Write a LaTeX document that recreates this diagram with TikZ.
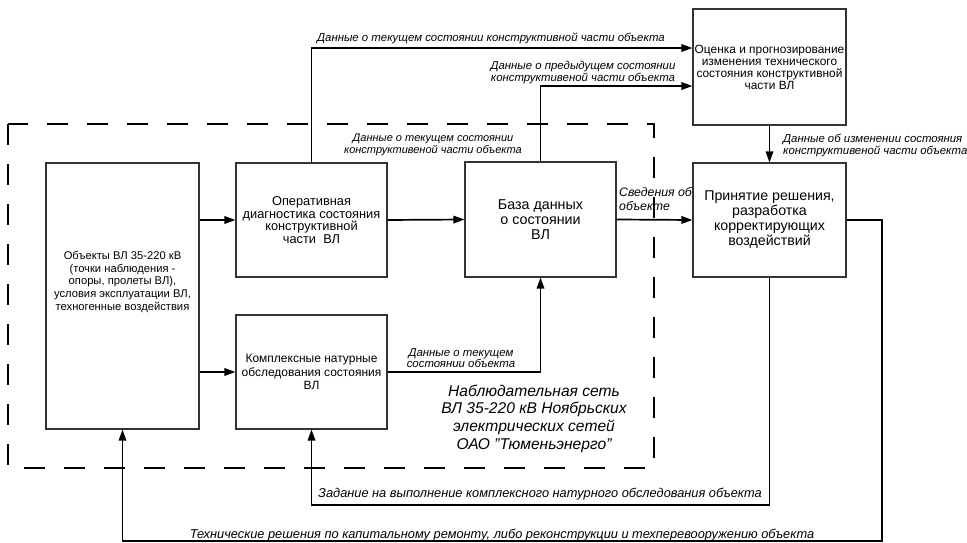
\documentclass[tikz,border=0pt]{standalone}
\usepackage{fontspec}
\setmainfont{Liberation Sans}
\usetikzlibrary{arrows.meta}
\begin{document}
\begin{tikzpicture}[x=1pt,y=-1pt,
  box/.style={draw=black!80,line width=1.1pt,inner sep=0pt,align=center},
  txt/.style={inner sep=0pt,align=center},
  lab/.style={inner sep=0pt,align=center,font=\fontsize{11.4}{11.5}\selectfont\itshape},
  biglab/.style={inner sep=0pt,align=center,font=\fontsize{12.8}{13}\selectfont\itshape},
  arr/.style={draw=black,line width=1.7pt,-{Triangle[length=11pt,width=7.5pt]}},
  netframe/.style={draw=black,line width=2pt,dash pattern=on 21pt off 19pt}]
\useasboundingbox (0,0) rectangle (967,543);

% observation network frame
\draw[netframe] (8,124) rectangle (654,468);

% blocks
\node[box,minimum width=153pt,minimum height=266pt] (obj) at (122.5,296) {};
\node[txt,font=\fontsize{11.2}{12.7}\selectfont] (objtxt) at (122.5,282)
  {Объекты ВЛ 35-220 кВ\\(точки наблюдения -\\опоры, пролеты ВЛ),\\условия эксплуатации ВЛ,\\техногенные воздействия};
\node[box,minimum width=151pt,minimum height=114pt,font=\fontsize{12.8}{12.5}\selectfont] (oper) at (311.5,220)
  {Оперативная\\диагностика состояния\\конструктивной\\части~~ВЛ};
\node[box,minimum width=151pt,minimum height=115pt,font=\fontsize{14.3}{15}\selectfont] (db) at (540.5,219.5)
  {База данных\\о состоянии\\ВЛ};
\node[box,minimum width=153pt,minimum height=116pt,font=\fontsize{11.9}{12}\selectfont] (est) at (769.5,67)
  {Оценка и прогнозирование\\изменения технического\\состояния конструктивной\\части ВЛ};
\node[box,minimum width=153pt,minimum height=114pt,font=\fontsize{14.2}{15}\selectfont] (dec) at (769.5,220)
  {Принятие решения,\\разработка\\корректирующих\\воздействий};
\node[box,minimum width=151pt,minimum height=114pt,font=\fontsize{12}{13.3}\selectfont] (compl) at (311.5,372)
  {Комплексные натурные\\обследования состояния\\ВЛ};

% bend points of the feedback lines
\coordinate (e1) at ([yshift=19pt]est.west);
\coordinate (e2) at ([yshift=-19pt]est.west);
\coordinate (zadL) at (311.5,505);
\coordinate (techR) at (882,541);
\coordinate (techL) at (122.5,541);

% connectors
\draw[arr] (oper.west -| obj.east) -- (oper.west);
\draw[arr] (compl.west -| obj.east) -- (compl.west);
\draw[arr] (oper.east) -- (db.west);
\draw[arr] (db.east) -- (dec.west);
\draw[arr] (oper.north) |- (e1);
\draw[arr] (db.north) |- (e2);
\draw[arr] (est.south) -- (dec.north);
\draw[arr] (compl.east) -| (db.south);
\draw[arr] (dec.south) |- (zadL) -- (compl.south);
\draw[arr] (dec.east) -| (techR) -- (techL) -- (obj.south);

% connector labels
\node[lab] (l1) at (491,38) {Данные о текущем состоянии конструктивной части объекта};
\node[lab] (l2) at (583,72.5) {Данные о предыдущем состоянии\\конструктивеной части объекта};
\node[lab,font=\fontsize{11}{11.5}\selectfont\itshape] (l3) at (433,145) {Данные о текущем состоянии\\конструктивеной части объекта};
\node[lab,anchor=west,align=left] (l4) at (783,145.5) {Данные об изменении состояния\\конструктивеной части объекта};
\node[lab,anchor=west,align=left,font=\fontsize{12.3}{14}\selectfont\itshape] (l5) at (619,199.5) {Сведения об\\объекте};
\node[lab] (l6) at (461,358) {Данные о текущем\\состоянии объекта};
\node[biglab] (l7) at (540,494) {Задание на выполнение комплексного натурного обследования объекта};
\node[biglab] (l8) at (502,535) {Технические решения по капитальному ремонту, либо реконструкции и техперевооружению объекта};
\node[txt,font=\fontsize{15.6}{17.7}\selectfont\itshape] (net) at (534,418.5)
  {Наблюдательная сеть\\ВЛ 35-220 кВ Ноябрьских\\электрических сетей\\ОАО "Тюменьэнерго"};
\end{tikzpicture}
\end{document}
